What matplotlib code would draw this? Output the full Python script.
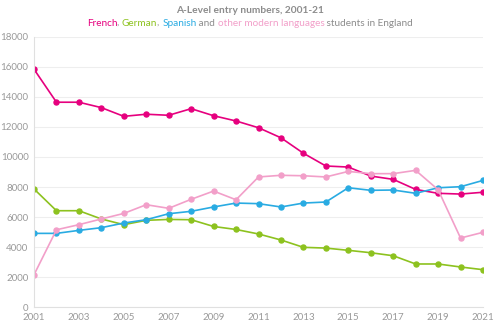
import numpy as np
import matplotlib.pyplot as plt

years = list(range(2001, 2022))

french = [15850, 13650, 13650, 13290, 12710, 12850, 12780, 13220, 12750, 12400, 11950,
          11280, 10250, 9400, 9330, 8730, 8510, 7840, 7580, 7530, 7650]
german = [7870, 6420, 6420, 5870, 5490, 5780, 5840, 5820, 5370, 5170, 4870,
          4470, 3980, 3930, 3780, 3620, 3420, 2870, 2870, 2670, 2490]
spanish = [4910, 4910, 5110, 5290, 5600, 5820, 6220, 6380, 6670, 6930, 6890,
           6670, 6930, 7000, 7950, 7780, 7800, 7580, 7950, 8020, 8440]
other = [2150, 5150, 5490, 5870, 6240, 6820, 6580, 7180, 7730, 7150, 8670,
         8780, 8750, 8670, 9040, 8890, 8890, 9110, 7820, 4600, 4980]

c_french = '#e6007e'
c_german = '#8dc21f'
c_spanish = '#29abe2'
c_other = '#f29fc9'
c_grey = '#8c8c8c'

plt.rcParams['font.family'] = ['Lato', 'DejaVu Sans']

fig = plt.figure(figsize=(5, 3.27), dpi=100)
ax = fig.add_axes([0.068, 0.061, 0.898, 0.826])

series = [(french, c_french), (german, c_german), (spanish, c_spanish), (other, c_other)]
for vals, col in series:
    ax.plot(years, vals, color=col, lw=1.2, marker='o', ms=3.6, mec=col, mfc=col)

ax.set_xlim(2001, 2021)
ax.set_ylim(0, 18000)
ax.set_xticks(range(2001, 2022, 2))
ax.set_yticks(range(0, 18001, 2000))
ax.tick_params(length=0, labelsize=7, colors='#999999', pad=4)
ax.grid(axis='y', color='#eeeeee', lw=0.8)
ax.set_axisbelow(True)
for s in ['top', 'right']:
    ax.spines[s].set_visible(False)
for s in ['left', 'bottom']:
    ax.spines[s].set_color('#e0e0e0')
    ax.spines[s].set_linewidth(0.8)

fig.text(0.5, 0.968, 'A-Level entry numbers, 2001-21', ha='center', va='center',
         fontsize=7.3, color=c_grey, fontweight='bold')

# coloured subtitle built from pieces
pieces = [('French', c_french), (', ', c_grey), ('German', c_german), (', ', c_grey),
          ('Spanish', c_spanish), (' and ', c_grey), ('other modern languages', c_other),
          (' students in England', c_grey)]
fig.canvas.draw()
renderer = fig.canvas.get_renderer()
texts = []
widths = []
for txt, col in pieces:
    t = fig.text(0, 0.929, txt, ha='left', va='center', fontsize=7.2, color=col)
    bb = t.get_window_extent(renderer=renderer)
    texts.append(t)
    widths.append(bb.width / fig.bbox.width)
x = 0.5 - sum(widths) / 2
for t, w in zip(texts, widths):
    t.set_x(x)
    x += w

fig.savefig('out.png', dpi=100)
